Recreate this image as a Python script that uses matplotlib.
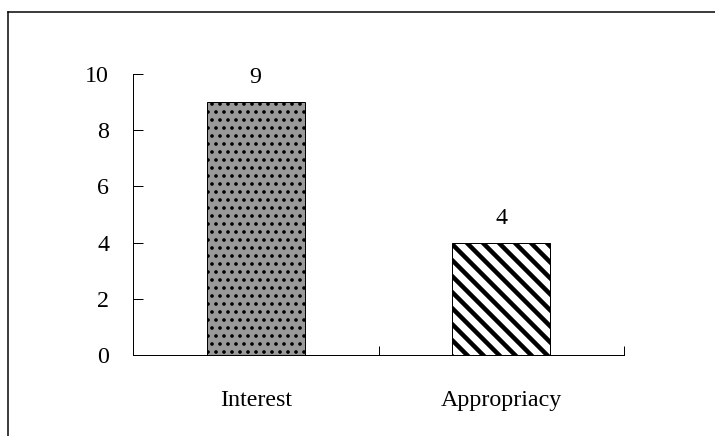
import matplotlib
matplotlib.use("Agg")
import matplotlib.pyplot as plt
from matplotlib.lines import Line2D

categories = ["Interest", "Appropriacy"]
values = [9, 4]
yticks = [0, 2, 4, 6, 8, 10]

plt.rcParams['font.family'] = ['Liberation Serif', 'DejaVu Serif']

DPI = 48
def pt(px):
    return px * 72.0 / DPI

FS = pt(24)

fig = plt.figure(figsize=(715/DPI, 436/DPI), dpi=DPI)
ax = fig.add_axes([133/715, 1-355/436, (624-133)/715, (355-74)/436])

x = list(range(len(categories)))
styles = [dict(facecolor='#999999', hatch='.', hlw=pt(2.0)),
          dict(facecolor='white', hatch='\\', hlw=pt(4.5))]
for i, (xi, v) in enumerate(zip(x, values)):
    st = styles[i]
    with plt.rc_context({'hatch.linewidth': st['hlw'], 'hatch.color': 'black'}):
        ax.bar(xi, v, width=0.40, facecolor=st['facecolor'], edgecolor='black',
               linewidth=pt(1.0), hatch=st['hatch'])
    ax.annotate(str(v), (xi, v), xytext=(0, pt(19)), textcoords='offset points',
                ha='center', va='baseline', fontsize=FS)

ax.set_xlim(-0.5, len(categories) - 0.5)
ax.set_ylim(0, 10)
ax.set_yticks(yticks)
ax.set_yticklabels([str(t) for t in yticks])
ax.set_xticks([i - 0.5 for i in range(len(categories) + 1)])
ax.set_xticklabels([])
ax.set_xticks(x, minor=True)
ax.set_xticklabels(categories, minor=True)
ax.tick_params(axis='x', which='major', direction='in', length=pt(9), width=pt(1))
ax.tick_params(axis='x', which='minor', length=0, pad=pt(35), labelsize=FS)
ax.tick_params(axis='y', direction='in', length=pt(10), width=pt(1), pad=pt(24), labelsize=FS)
ax.spines['top'].set_visible(False)
ax.spines['right'].set_visible(False)
for s in ['left', 'bottom']:
    ax.spines[s].set_linewidth(pt(1.0))

# figure border (left and top visible)
fig.add_artist(Line2D([8/715, 8/715], [0, 1-12/436], transform=fig.transFigure,
                      color='black', linewidth=pt(1.5)))
fig.add_artist(Line2D([8/715, 1], [1-12/436, 1-12/436], transform=fig.transFigure,
                      color='black', linewidth=pt(1.5)))

fig.savefig("out.png", dpi=DPI)
